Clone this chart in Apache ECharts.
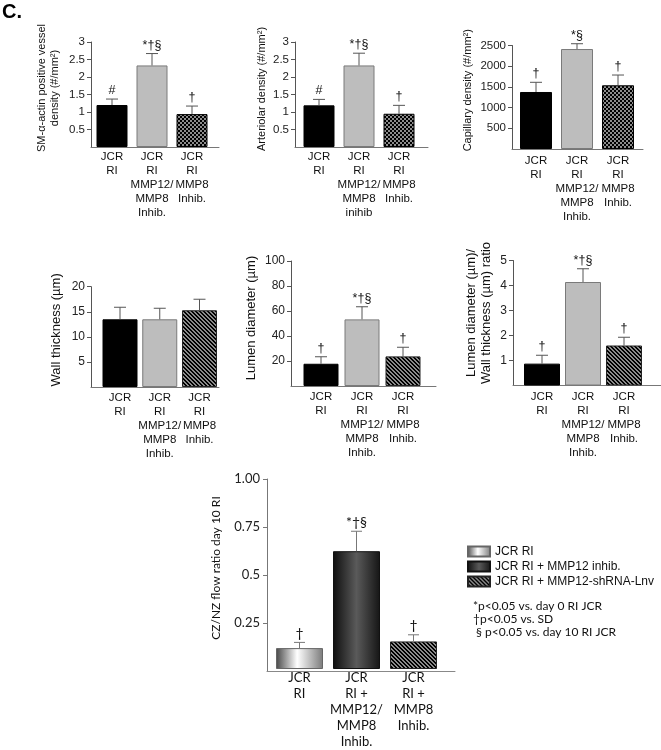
<!DOCTYPE html>
<html><head><meta charset="utf-8">
<script src="https://cdn.jsdelivr.net/npm/echarts@6/dist/echarts.min.js"></script>
<style>html,body{margin:0;padding:0;background:#fff}#c{width:661px;height:750px}</style>
</head><body><div id="c"></div>
<script>
// ---------------- DATA ----------------
const catsStd  = ['JCR\nRI', 'JCR\nRI\nMMP12/\nMMP8\nInhib.', 'JCR\nRI\nMMP8\nInhib.'];
const catsArt  = ['JCR\nRI', 'JCR\nRI\nMMP12/\nMMP8\ninihib', 'JCR\nRI\nMMP8\nInhib.'];
const catsFlow = ['JCR\nRI', 'JCR\nRI +\nMMP12/\nMMP8\nInhib.', 'JCR\nRI +\nMMP8\nInhib.'];

const smaMean = [1.2, 2.33, 0.94];
const smaErr  = [1.37, 2.67, 1.17];
const smaMarks = ['#', '*†§', '†'];
const smaTicks = [0.5, 1, 1.5, 2, 2.5, 3];

const artMean = [1.19, 2.33, 0.95];
const artErr  = [1.36, 2.68, 1.19];
const artMarks = ['#', '*†§', '†'];
const artTicks = [0.5, 1, 1.5, 2, 2.5, 3];

const capMean = [1377, 2415, 1539];
const capErr  = [1611, 2543, 1787];
const capMarks = ['†', '*§', '†'];
const capTicks = [500, 1000, 1500, 2000, 2500];

const wallMean = [13.5, 13.5, 15.3];
const wallErr  = [15.9, 15.7, 17.5];
const wallMarks = ['', '', ''];
const wallTicks = [5, 10, 15, 20];

const lumMean = [17.8, 53.3, 23.7];
const lumErr  = [23.4, 63.4, 31];
const lumMarks = ['†', '*†§', '†'];
const lumTicks = [20, 40, 60, 80, 100];

const ratioMean = [0.875, 4.14, 1.6];
const ratioErr  = [1.21, 4.67, 1.93];
const ratioMarks = ['†', '*†§', '†'];
const ratioTicks = [1, 2, 3, 4, 5];

const flowMean = [0.11, 0.62, 0.145];
const flowErr  = [0.14, 0.725, 0.18];
const flowMarks = ['†', '*†§', '†'];
const flowTicks = [0.25, 0.5, 0.75, 1.0];
const flowTickLabels = ['0.25', '0.5', '0.75', '1.00'];

const legendNames = ['JCR RI', 'JCR RI + MMP12 inhib.', 'JCR RI + MMP12-shRNA-Lnv'];
const footnotes = ['*p<0.05 vs. day 0 RI JCR', '†p<0.05 vs. SD', ' § p<0.05 vs. day 10 RI JCR'];

// ---------------- STYLES ----------------
const FA = "'Liberation Sans', Arial, Helvetica, sans-serif";
const FB = "Lato, 'Open Sans', sans-serif";

function makeCanvas(fn) {
  const c = document.createElement('canvas'); c.width = 4; c.height = 4;
  const g = c.getContext('2d');
  for (let x = 0; x < 4; x++) for (let y = 0; y < 4; y++) { g.fillStyle = fn(x, y); g.fillRect(x, y, 1, 1); }
  return c;
}
const checker = { image: makeCanvas((x, y) => (((x >> 1) + (y >> 1)) % 2) ? '#8c8c8c' : '#000'), repeat: 'repeat' };
const stripes = { image: makeCanvas((x, y) => ((((x - y) % 4) + 4) % 4) < 2 ? '#000' : '#8a8a8a'), repeat: 'repeat' };

const sBlack = { color: '#000', borderColor: '#000', borderWidth: 1 };
const sGray = { color: '#bdbdbd', borderColor: '#7a7a7a', borderWidth: 1 };
const sChecker = { color: checker, borderColor: '#000', borderWidth: 1 };
const sStripes = { color: stripes, borderColor: '#222', borderWidth: 1 };
const sGradLight = { color: { type: 'linear', x: 0, y: 0, x2: 1, y2: 0, colorStops: [
  { offset: 0, color: '#474747' }, { offset: 0.45, color: '#ffffff' }, { offset: 1, color: '#7a7a7a' }] },
  borderColor: '#666', borderWidth: 1 };
const sGradDark = { color: { type: 'linear', x: 0, y: 0, x2: 1, y2: 0, colorStops: [
  { offset: 0, color: '#0e0e0e' }, { offset: 0.5, color: '#5a5a5a' }, { offset: 1, color: '#151515' }] },
  borderColor: '#111', borderWidth: 1 };

const option = {
  animation: false,
  backgroundColor: '#fff',
  title: { text: 'C.', left: 2, top: 2, padding: 0, textStyle: { fontSize: 20, fontWeight: 'bold', fontFamily: FA, color: '#000' } },
  grid: [], xAxis: [], yAxis: [], series: [],
  legend: {
    data: legendNames, orient: 'vertical', left: 467, top: 545, padding: 0, itemWidth: 22, itemHeight: 10, itemGap: 2,
    icon: 'rect', selectedMode: false,
    textStyle: { fontSize: 12, fontFamily: FA, color: '#111', lineHeight: 13 }
  },
  graphic: [{
    type: 'text', left: 473, top: 600,
    style: { text: footnotes.join('\n'), fontSize: 12, fontFamily: FB, fill: '#111', lineHeight: 13 }
  }]
};

function addPanel(p) {
  const gi = option.grid.length;
  const h = p.baseY - p.topY;
  option.grid.push({ left: p.axisX, top: p.topY, width: p.lineEnd - p.axisX, height: h });
  option.grid.push({ left: p.c1 - p.s / 2, top: p.topY, width: 3 * p.s, height: h });
  // axis-line grid
  option.xAxis.push({ gridIndex: gi, type: 'value', min: 0, max: 1,
    axisLine: { show: true, lineStyle: { color: p.xLine, width: 1 } }, axisTick: { show: false },
    axisLabel: { show: false }, splitLine: { show: false } });
  option.yAxis.push({ gridIndex: gi, type: 'value', min: 0, max: p.max,
    axisLine: { show: true, lineStyle: { color: p.yLine, width: 1 } },
    axisTick: { show: true, length: 4, customValues: p.ticks, lineStyle: { color: p.yLine } },
    axisLabel: { customValues: p.ticks, margin: p.tickMargin, fontSize: p.tickSize, fontFamily: p.font, color: '#222',
      formatter: v => p.tickLabels ? p.tickLabels[p.ticks.indexOf(v)] : String(v) },
    splitLine: { show: false },
    name: p.name, nameLocation: 'middle', nameRotate: 90, nameGap: p.nameGap,
    nameTextStyle: { fontSize: p.nameSize, fontFamily: p.font, color: '#111', lineHeight: p.nameLH, padding: [0, 0, 0, p.namePad] } });
  // bar grid
  option.xAxis.push({ gridIndex: gi + 1, type: 'category', data: p.cats,
    axisLine: { show: false }, axisTick: { show: false },
    axisLabel: { interval: 0, margin: p.labelMargin, fontSize: p.catSize, lineHeight: p.catLH, fontFamily: p.font, color: '#111' } });
  option.yAxis.push({ gridIndex: gi + 1, type: 'value', min: 0, max: p.max, show: false });
  const xi = gi + 1, yi = gi + 1;
  if (p.legend) {
    p.legend.forEach((nm, k) => option.series.push({
      type: 'bar', name: nm, xAxisIndex: xi, yAxisIndex: yi, barWidth: p.barW, barGap: '-100%', silent: true,
      itemStyle: p.styles[k], data: p.mean.map((v, i) => i === k ? v : '-')
    }));
  } else {
    option.series.push({ type: 'bar', xAxisIndex: xi, yAxisIndex: yi, barWidth: p.barW, silent: true,
      data: p.mean.map((v, i) => ({ value: v, itemStyle: p.styles[i] })) });
  }
  option.series.push({ type: 'custom', xAxisIndex: xi, yAxisIndex: yi, z: 5, silent: true,
    data: p.err.map((e, i) => [i, e, p.mean[i]]),
    renderItem: (params, api) => {
      const top = api.coord([api.value(0), api.value(1)]);
      const base = api.coord([api.value(0), api.value(2)]);
      const mark = p.marks[params.dataIndex];
      const ch = [
        { type: 'line', shape: { x1: top[0], y1: base[1], x2: top[0], y2: top[1] }, style: { stroke: p.errColor, lineWidth: 1 } },
        { type: 'line', shape: { x1: top[0] - p.cap / 2, y1: top[1], x2: top[0] + p.cap / 2, y2: top[1] }, style: { stroke: p.errColor, lineWidth: 1 } }
      ];
      if (mark) ch.push({ type: 'text', style: { text: mark, x: top[0], y: top[1] - 2, align: 'center', verticalAlign: 'bottom',
        fontSize: p.markSize, fontFamily: p.font, fill: '#111' } });
      return { type: 'group', children: ch };
    } });
}

const baseA = { font: FA, tickSize: 11.5, tickMargin: 6, catSize: 11.5, catLH: 14, nameSize: 11, nameLH: 13,
  xLine: '#777', yLine: '#555', errColor: '#555', cap: 12, markSize: 12.5 };
const baseB = Object.assign({}, baseA, { nameSize: 13, nameLH: 15, tickSize: 12, catSize: 11.5 });

addPanel(Object.assign({}, baseA, { cats: catsStd, mean: smaMean, err: smaErr, marks: smaMarks, ticks: smaTicks, max: 3,
  name: 'SM-α-actin positive vessel\ndensity (#/mm²)', axisX: 91, lineEnd: 219, topY: 42, baseY: 147, c1: 112, s: 40, barW: 31,
  nameGap: 30, namePad: 13, labelMargin: 3, styles: [sBlack, sGray, sChecker] }));
addPanel(Object.assign({}, baseA, { cats: catsArt, mean: artMean, err: artErr, marks: artMarks, ticks: artTicks, max: 3,
  name: 'Arteriolar density (#/mm²)', axisX: 295, lineEnd: 428, topY: 42, baseY: 147, c1: 319, s: 40, barW: 31,
  nameGap: 27, namePad: 11, labelMargin: 3, styles: [sBlack, sGray, sChecker] }));
addPanel(Object.assign({}, baseA, { cats: catsStd, mean: capMean, err: capErr, marks: capMarks, ticks: capTicks, max: 2500,
  name: 'Capillary density (#/mm²)', axisX: 512, lineEnd: 643, topY: 45.5, baseY: 149, c1: 536, s: 41, barW: 32,
  nameGap: 38, namePad: 14, labelMargin: 5, styles: [sBlack, sGray, sChecker] }));
addPanel(Object.assign({}, baseB, { cats: catsStd, mean: wallMean, err: wallErr, marks: wallMarks, ticks: wallTicks, max: 20,
  name: 'Wall thickness (µm)', axisX: 91, lineEnd: 219, topY: 286.7, baseY: 387, c1: 120, s: 39.75, barW: 35,
  nameGap: 27, namePad: 14, labelMargin: 4, styles: [sBlack, sGray, sStripes] }));
addPanel(Object.assign({}, baseB, { cats: catsStd, mean: lumMean, err: lumErr, marks: lumMarks, ticks: lumTicks, max: 100,
  name: 'Lumen diameter (µm)', axisX: 291, lineEnd: 436, topY: 261, baseY: 386, c1: 321, s: 41, barW: 35,
  nameGap: 32, namePad: 11, labelMargin: 4, styles: [sBlack, sGray, sStripes] }));
addPanel(Object.assign({}, baseB, { cats: catsStd, mean: ratioMean, err: ratioErr, marks: ratioMarks, ticks: ratioTicks, max: 5,
  name: 'Lumen diameter (µm)/\nWall thickness (µm) ratio', axisX: 513, lineEnd: 661, topY: 260.5, baseY: 385.5, c1: 542, s: 41, barW: 36,
  nameGap: 19, namePad: 20, labelMargin: 4, styles: [sBlack, sGray, sStripes] }));
addPanel({ font: FB, tickSize: 13, tickMargin: 7, catSize: 13, catLH: 16, nameSize: 12, nameLH: 14,
  xLine: '#888', yLine: '#777', errColor: '#777', cap: 11, markSize: 14,
  cats: catsFlow, mean: flowMean, err: flowErr, marks: flowMarks, ticks: flowTicks, tickLabels: flowTickLabels, max: 1,
  name: 'CZ/NZ flow ratio day 10 RI', axisX: 267, lineEnd: 455, topY: 479, baseY: 671, c1: 299.5, s: 57, barW: 47,
  nameGap: 44, namePad: 14, labelMargin: 1, styles: [sGradLight, sGradDark, sStripes], legend: legendNames });

const chart = echarts.init(document.getElementById('c'), null, { renderer: 'canvas' });
chart.setOption(option);
</script>
</body></html>
